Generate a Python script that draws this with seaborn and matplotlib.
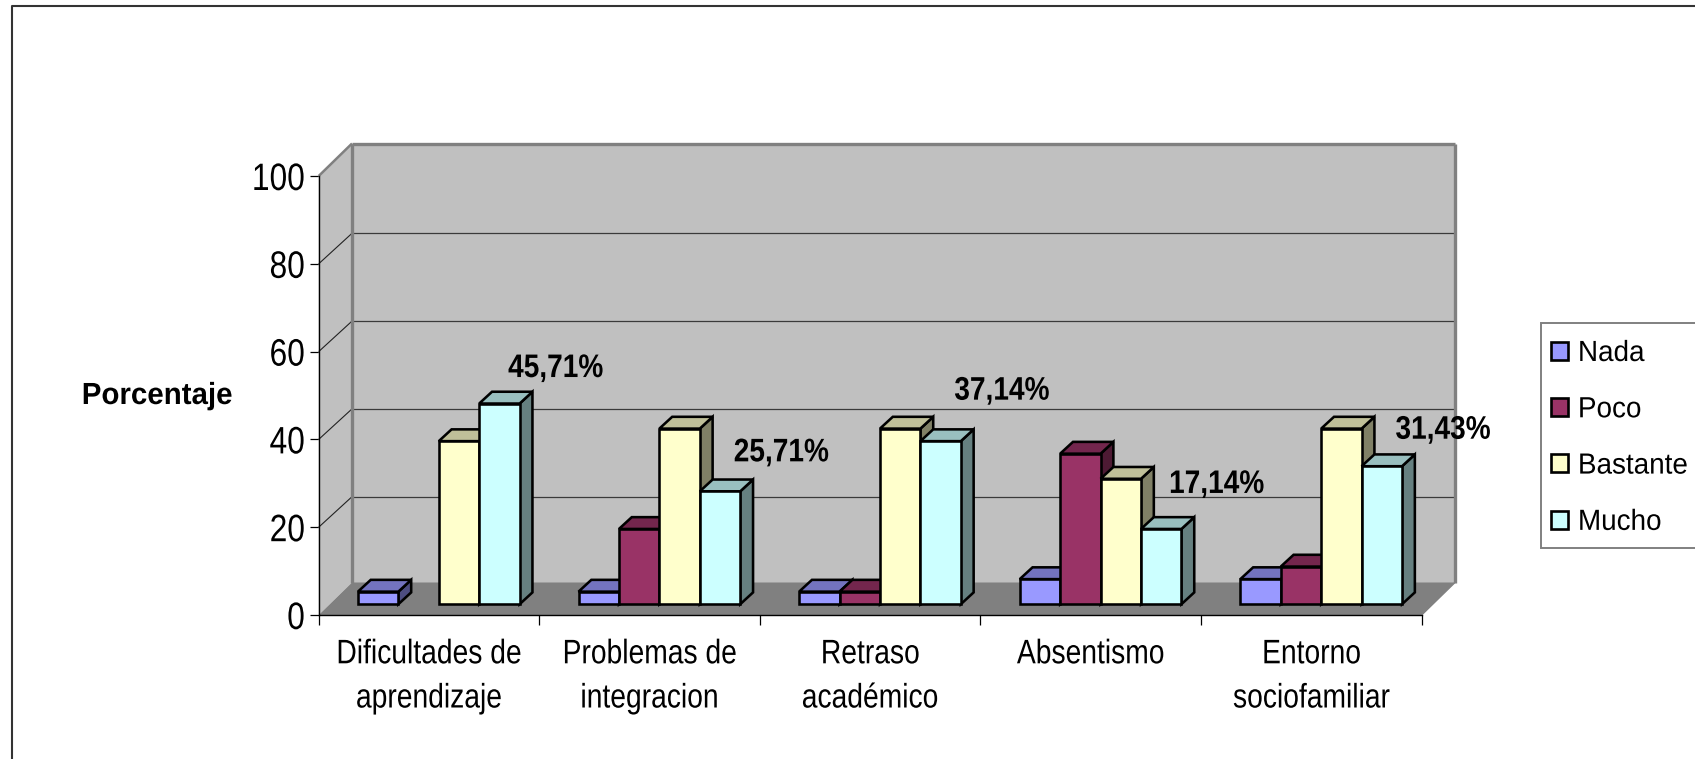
import numpy as np
import pandas as pd
import seaborn as sns
import matplotlib
matplotlib.use("Agg")
import matplotlib.pyplot as plt
from matplotlib.patches import Polygon, Patch, Rectangle
from matplotlib.lines import Line2D
from matplotlib.patheffects import AbstractPathEffect
from matplotlib.transforms import Affine2D, IdentityTransform
from matplotlib.colors import to_rgb

categories = ["Dificultades de\naprendizaje", "Problemas de\nintegracion", "Retraso\nacadémico",
              "Absentismo", "Entorno\nsociofamiliar"]
series = ["Nada", "Poco", "Bastante", "Mucho"]
nada = [2.86, 2.86, 2.86, 5.71, 5.71]
poco = [np.nan, 17.14, 2.86, 34.29, 8.57]
bastante = [37.14, 40.0, 40.0, 28.57, 40.0]
mucho = [45.71, 25.71, 37.14, 17.14, 31.43]
colors = ["#9999FF", "#993366", "#FFFFCC", "#CCFFFF"]
yticks = [0, 20, 40, 60, 80, 100]

W, H = 1695, 759
sns.set_theme(style="white")
plt.rcParams["font.family"] = ["Liberation Sans", "DejaVu Sans"]


class Condense(AbstractPathEffect):
    """Draw real text horizontally condensed, like the reference's narrow rendering."""
    def __init__(self, factor, anchor="center"):
        super().__init__()
        self.factor, self.anchor = factor, anchor

    def draw_path(self, renderer, gc, tpath, affine, rgbFace=None):
        ext = tpath.get_extents()
        cx = {"left": ext.x0, "center": (ext.x0 + ext.x1) / 2, "right": ext.x1}[self.anchor]
        squeeze = Affine2D().translate(-cx, 0).scale(self.factor, 1).translate(cx, 0)
        renderer.draw_path(gc, tpath, squeeze + affine, rgbFace)


df = pd.DataFrame({"cat": categories * 4,
                   "serie": np.repeat(series, 5),
                   "valor": nada + poco + bastante + mucho})

fig = plt.figure(figsize=(W / 100, H / 100), dpi=100, facecolor="white")
x0, x1, y0, y100 = 318.7, 1421.7, 615.0, 176.0
ax = fig.add_axes([x0 / W, 1 - y0 / H, (x1 - x0) / W, (y0 - y100) / H])
ax.patch.set_alpha(0)

EW = 1.85
sns.barplot(data=df, x="cat", y="valor", hue="serie", order=categories, hue_order=series,
            palette=colors, width=0.733, gap=0, dodge=True, saturation=1,
            edgecolor="black", linewidth=EW, legend=False, ax=ax, err_kws={"linewidth": 0})
ax.set_xlim(-0.5, 4.5)
ax.set_ylim(0, 100)
ax.set_xlabel("")


def px(x, y, d=(0, 0)):
    p = ax.transData.transform((x, y))
    return (p[0] + d[0], p[1] + d[1])


back = (33.3, 32.5)
grid_back = (33.3, 30.5)
idt = IdentityTransform()


def poly(pts, fc, ec="none", lw=0, z=1):
    ax.add_patch(Polygon(pts, closed=True, facecolor=fc, edgecolor=ec, linewidth=lw,
                         transform=idt, zorder=z, clip_on=False, joinstyle="miter"))


def seg(a, b, c, lw, z=2):
    ax.add_line(Line2D([a[0], b[0]], [a[1], b[1]], color=c, linewidth=lw, transform=idt,
                       zorder=z, clip_on=False, solid_capstyle="butt"))


L, R = -0.5, 4.5
WALL, FLOOR, EDGE = "#C0C0C0", "#808080", "#808080"
poly([px(L, 0, back), px(R, 0, back), px(R, 100, back), px(L, 100, back)], WALL)
poly([px(L, 0), px(L, 0, back), px(L, 100, back), px(L, 100)], WALL)
poly([px(L, 0), px(R, 0), px(R, 0, back), px(L, 0, back)], FLOOR)
for v in yticks[1:-1]:
    seg(px(L, v, grid_back), px(R, v, grid_back), "#3a3a3a", 0.9)
    seg(px(L, v), px(L, v, grid_back), "#222222", 0.8)
seg(px(L, 100, back), px(R, 100, back), EDGE, 2.4, 3)
seg(px(L, 0, back), px(L, 100, back), EDGE, 2.4, 3)
seg(px(R, 0, back), px(R, 100, back), EDGE, 2.4, 3)
seg(px(L, 100), px(L, 100, back), EDGE, 1.8, 3)
seg(px(R, 0), px(R, 0, back), EDGE, 1.0, 3)

BAR_OFF = (9.8, 10.8)
BAR_D = (12.8, 11.8)
bar_tf = ax.transData + Affine2D().translate(*BAR_OFF)
bars = []
for cont, col in zip(ax.containers, colors):
    for b in cont:
        if np.isfinite(b.get_height()) and b.get_height() > 0:
            bars.append((b, col))
bars.sort(key=lambda t: t[0].get_x())
shade = lambda c, f: tuple(v * f for v in to_rgb(c))
z = 10
for b, col in bars:
    xa, xb, h = b.get_x(), b.get_x() + b.get_width(), b.get_height()
    A = px(xa, 0, BAR_OFF); B = px(xb, 0, BAR_OFF)
    C = px(xb, h, BAR_OFF); D = px(xa, h, BAR_OFF)
    shift = lambda p: (p[0] + BAR_D[0], p[1] + BAR_D[1])
    poly([B, C, shift(C), shift(B)], shade(col, 0.5), "black", EW, z)
    poly([D, C, shift(C), shift(D)], shade(col, 0.75), "black", EW, z + 1)
    b.set_transform(bar_tf)
    b.set_clip_on(False)
    b.set_zorder(z + 2)
    b.set_joinstyle("miter")
    z += 3

for s in ("top", "right"):
    ax.spines[s].set_visible(False)
for s in ("left", "bottom"):
    ax.spines[s].set_visible(True)
    ax.spines[s].set_color("black")
    ax.spines[s].set_linewidth(1.0)
    ax.spines[s].set_zorder(5)
ax.set_yticks(yticks)
ax.set_xticks(np.arange(-0.5, 5.0, 1.0))
ax.set_xticklabels([])
ax.set_xticks(np.arange(5), labels=categories, minor=True)
ax.tick_params(axis="y", which="major", left=True, length=6.3, width=0.9, color="black",
               labelsize=27.5, pad=3.5, labelcolor="black")
ax.tick_params(axis="x", which="major", bottom=True, length=7, width=0.9, color="black")
ax.tick_params(axis="x", which="minor", bottom=False, length=0, labelsize=24.5, pad=17.5,
               labelcolor="black")
for t in ax.get_xticklabels(minor=True):
    t.set_linespacing(1.55)
    t.set_path_effects([Condense(0.83, "center")])
for t in ax.get_yticklabels():
    t.set_path_effects([Condense(0.83, "right")])

yl = ax.set_ylabel("Porcentaje", rotation=0, fontsize=22, fontweight="bold", color="black",
                   ha="center", va="center")
yl.set_path_effects([Condense(0.965, "center")])
ax.yaxis.set_label_coords((157 - x0) / (x1 - x0), (y0 - 396) / (y0 - y100))

label_off = [(56, 35), (61, 38.5), (61, 50), (55, 44.5), (61, 36)]
mucho_bars = sorted(ax.containers[3], key=lambda b: b.get_x())
for b, val, off in zip(mucho_bars, mucho, label_off):
    a = ax.annotate(f"{val:.2f}%".replace(".", ","),
                    xy=(b.get_x() + b.get_width() / 2, b.get_height()), xycoords=bar_tf,
                    xytext=off, textcoords="offset pixels", ha="center", va="center",
                    fontsize=23.5, fontweight="bold", color="black", zorder=100,
                    annotation_clip=False)
    a.set_path_effects([Condense(0.86, "center")])

fig.add_artist(Rectangle((1540.7 / W, 1 - 547.7 / H), 200 / W, (547.7 - 323) / H,
                         transform=fig.transFigure, facecolor="white", edgecolor="#808080",
                         linewidth=1.4, clip_on=True))
handles = [Patch(facecolor=c, edgecolor="black", linewidth=1.9) for c in colors]
leg = fig.legend(handles, series, loc="upper left",
                 bbox_to_anchor=(1551 / W, 1 - 339 / H), bbox_transform=fig.transFigure,
                 frameon=False, borderpad=0, borderaxespad=0, fontsize=21,
                 handlelength=0.58, handleheight=0.58, handletextpad=0.34, labelspacing=0.97)
leg.set_zorder(20)
for t in leg.get_texts():
    t.set_color("black")
    t.set_path_effects([Condense(0.955, "left")])

fig.add_artist(Line2D([12 / W, 12 / W, 1], [0, 1 - 5.5 / H, 1 - 5.5 / H], color="#333333",
                      linewidth=1.5, transform=fig.transFigure))

fig.savefig("out.png", dpi=100, facecolor="white")
